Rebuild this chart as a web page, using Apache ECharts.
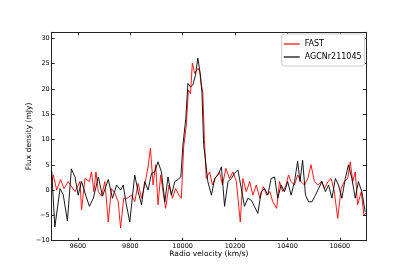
<!DOCTYPE html>
<html><head><meta charset="utf-8">
<script src="https://cdn.jsdelivr.net/npm/echarts@6/dist/echarts.min.js"></script>
<style>html,body{margin:0;padding:0;background:#fff}#c{width:407px;height:271px}</style>
</head><body><div id="c"></div>
<script>
const fastV = [9500,9506,9519,9534,9547,9563,9572,9589,9608,9614,9627,9644,9652,9661,9669,9678,9690,9703,9716,9728,9741,9754,9763,9775,9788,9805,9817,9830,9843,9855,9868,9877,9887,9897,9906,9916,9925,9935,9948,9961,9973,9986,9995,10004,10014,10022,10030,10037,10046,10059,10065,10071,10077,10083,10090,10103,10114,10127,10141,10152,10165,10179,10192,10205,10220,10230,10243,10256,10268,10281,10295,10308,10321,10333,10344,10359,10370,10382,10395,10404,10414,10427,10439,10452,10465,10478,10490,10503,10516,10530,10541,10555,10567,10579,10592,10605,10617,10630,10640,10649,10659,10668,10682,10692,10700];
const fastF = [1.4,3.0,0,2.1,0.3,1.7,1.0,-0.3,1.7,-3.9,2.3,1.7,3.6,-0.3,3.6,-0.3,-1.2,1.7,-6.3,0.3,-0.6,-2.3,-7.5,-1.6,-1.6,-1.0,-2.3,1.3,-1.6,1.0,4.6,8.3,1.0,5.0,-2.9,3.0,-0.3,-3.6,1.0,-1.6,0.3,-1.0,-1.6,8.6,12.9,19.8,19.1,25.1,23.1,24.1,23.4,20.8,19.4,10.0,2.3,3.6,1.0,2.6,3.6,1.0,4.3,2.3,3.6,1.7,-6.3,2.3,-0.3,1.7,-1.0,1.0,-1.6,0.7,-1.0,-0.3,-2.3,-3.6,1.7,-0.3,1.0,3.0,1.7,1.0,3.0,1.7,1.0,2.3,5.0,1.7,1.0,1.7,0.3,1.7,2.3,-0.3,-5.6,0.3,1.7,2.3,5.6,1.7,3.6,-2.9,-0.3,-4.9,-4.6];
const agcV = [9500,9512,9532,9544,9560,9575,9589,9601,9614,9631,9644,9659,9678,9694,9716,9732,9748,9763,9773,9783,9798,9817,9830,9843,9855,9868,9881,9893,9906,9919,9932,9944,9957,9970,9982,9993,10001,10012,10020,10030,10039,10049,10058,10068,10074,10080,10086,10096,10110,10122,10135,10148,10160,10173,10186,10198,10211,10224,10236,10249,10262,10274,10287,10300,10313,10325,10338,10351,10363,10376,10389,10401,10414,10427,10439,10448,10458,10469,10481,10494,10507,10519,10532,10545,10557,10570,10583,10595,10608,10621,10633,10646,10659,10671,10684,10697];
const agcF = [3.8,-7.3,0.3,-0.9,-6.1,4.2,2.6,-1.0,1.7,-1.2,-3.2,-1.6,2.6,-1.2,2.1,-1.6,1.0,0,1.0,-2.3,-6.3,3.0,-0.3,-2.9,1.7,0,3.3,3.6,5.6,3.6,-2.3,2.6,-1.0,1.7,2.1,2.6,8.9,14.2,21.1,20.4,20.8,22.7,26.1,22.7,19.0,9.0,6.5,1.7,-1.0,2.3,3.0,4.6,-3.2,1.7,2.3,3.3,4.0,0.3,-3.2,-1.6,-2.0,-3.2,-4.6,-0.3,0.3,-1.0,2.3,2.6,-1.6,1.0,-0.3,1.7,-1.0,1.7,5.7,1.7,5.9,-1.0,-2.3,-2.3,-1.0,0.3,1.7,-0.3,1.0,-1.6,2.3,1.0,-1.6,2.3,5.0,2.3,-1.6,1.7,-0.3,-4.3];
const xTicks = [9600,9800,10000,10200,10400,10600];
const yTicks = [-10,-5,0,5,10,15,20,25,30];

const zip = (a, b) => a.map((v, i) => [v, b[i]]);
const font = 'DejaVu Sans';
const chart = echarts.init(document.getElementById('c'));
const lineAx = {show: true, onZero: false, lineStyle: {color: '#222', width: 1}};
const tick = (vals) => ({show: true, inside: true, length: 3, customValues: vals, lineStyle: {color: '#222', width: 1}});
chart.setOption({
  animation: false,
  backgroundColor: '#fff',
  grid: {left: 51.7, right: 41, top: 32.3, bottom: 30.3, containLabel: false},
  legend: {
    orient: 'vertical', left: 281.7, top: 34,
    padding: [5, 3, 4, 2], itemGap: 3, itemWidth: 16, itemHeight: 1.2, icon: 'rect',
    backgroundColor: '#fff', borderColor: '#ccc', borderWidth: 1, borderRadius: 3,
    textStyle: {fontFamily: font, fontSize: 8, color: '#000', lineHeight: 10},
    data: ['FAST', 'AGCNr211045']
  },
  xAxis: [{
    type: 'value', min: 9500, max: 10700, position: 'bottom',
    name: 'Radio velocity (km/s)', nameLocation: 'middle', nameGap: 9, nameMoveOverlap: false,
    nameTextStyle: {fontFamily: font, fontSize: 7.5, color: '#000', verticalAlign: 'top'},
    axisLine: lineAx, axisTick: tick(xTicks), splitLine: {show: false},
    axisLabel: {customValues: xTicks, fontFamily: font, fontSize: 6.5, color: '#000', margin: 2,
      formatter: v => String(v)}
  }, {
    type: 'value', min: 9500, max: 10700, position: 'top',
    axisLine: lineAx, axisTick: tick(xTicks), splitLine: {show: false}, axisLabel: {show: false}
  }],
  yAxis: [{
    type: 'value', min: -10, max: 31.2, position: 'left',
    name: 'Flux density (mJy)', nameLocation: 'middle', nameGap: 19, nameRotate: 90, nameMoveOverlap: false,
    nameTextStyle: {fontFamily: font, fontSize: 7.5, color: '#000'},
    axisLine: lineAx, axisTick: tick(yTicks), splitLine: {show: false},
    axisLabel: {customValues: yTicks, fontFamily: font, fontSize: 6.5, color: '#000', margin: 2,
      formatter: v => (v < 0 ? '\u2212' + Math.abs(v) : String(v))}
  }, {
    type: 'value', min: -10, max: 31.2, position: 'right',
    axisLine: lineAx, axisTick: tick(yTicks), splitLine: {show: false}, axisLabel: {show: false}
  }],
  series: [{
    name: 'FAST', type: 'line', data: zip(fastV, fastF), symbol: 'none',
    lineStyle: {color: '#ff0000', width: 0.9}, itemStyle: {color: '#ff0000'}, z: 2
  }, {
    name: 'AGCNr211045', type: 'line', data: zip(agcV, agcF), symbol: 'none',
    lineStyle: {color: '#000000', width: 0.9}, itemStyle: {color: '#000000'}, z: 3
  }]
});
</script></body></html>
